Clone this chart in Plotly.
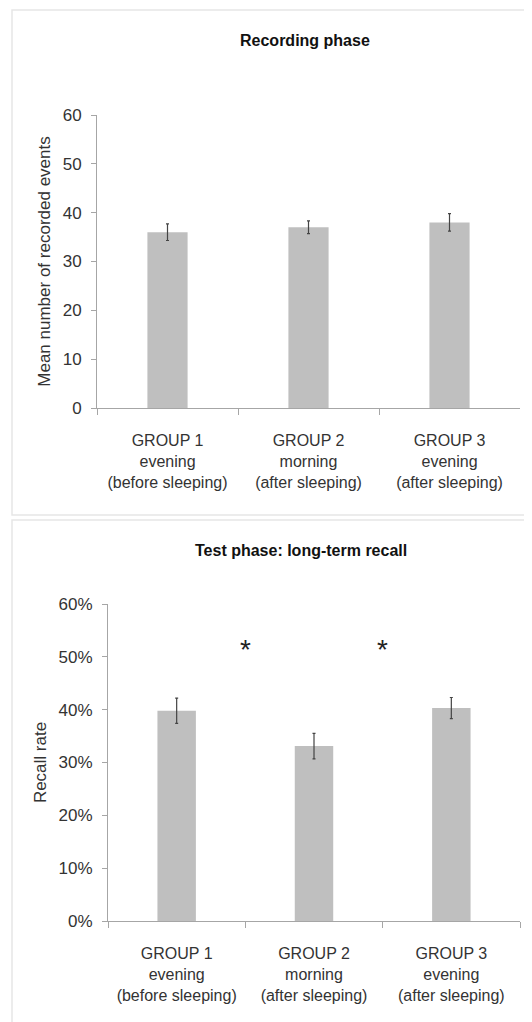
import plotly.graph_objects as go

categories = ["GROUP 1<br>evening<br>(before sleeping)",
              "GROUP 2<br>morning<br>(after sleeping)",
              "GROUP 3<br>evening<br>(after sleeping)"]
cat_keys = ["G1", "G2", "G3"]

recorded_means = [36, 37, 38]
recorded_err = [1.7, 1.3, 1.8]

recall_means = [0.398, 0.331, 0.403]
recall_err = [0.024, 0.024, 0.020]

star_positions = [0.5, 1.5]
star_level = 0.525

# page body has an 8px margin; figure sized to fit in the remaining window
OFF = 8
W, H = 532 - OFF, 1022 - OFF
tick_font = dict(family="Liberation Sans, Arial", size=16, color="#333333")
ytitle_font = dict(family="Liberation Sans, Arial", size=17, color="#333333")
title_font = dict(family="Liberation Sans, Arial", size=16, color="#111111")
bar_color = "#bfbfbf"
axis_color = "#a6a6a6"

fig = go.Figure()
fig.add_trace(go.Bar(x=cat_keys, y=recorded_means, marker=dict(color=bar_color, line=dict(width=0)),
                     width=0.285,
                     error_y=dict(type="data", array=recorded_err, color="#444444", thickness=1.2, width=1.5),
                     xaxis="x", yaxis="y", showlegend=False))
fig.add_trace(go.Bar(x=cat_keys, y=recall_means, marker=dict(color=bar_color, line=dict(width=0)),
                     width=0.28,
                     error_y=dict(type="data", array=recall_err, color="#444444", thickness=1.2, width=1.5),
                     xaxis="x2", yaxis="y2", showlegend=False))

def px_x(p):
    return (p - OFF) / W

def px_y(p):
    return 1 - (p - OFF) / H

common_x = dict(type="category", showline=True, linecolor=axis_color, linewidth=1,
                ticks="outside", tickson="boundaries", ticklen=6, tickcolor=axis_color,
                tickfont=tick_font, showgrid=False, zeroline=False, fixedrange=True,
                range=[-0.5, 2.5], ticktext=categories, tickvals=cat_keys,
                tickangle=0, automargin=False, ticklabelstandoff=18)
common_y = dict(showline=True, linecolor=axis_color, linewidth=1, ticks="outside",
                ticklen=5, tickcolor=axis_color, tickfont=dict(tick_font, size=17), showgrid=False,
                zeroline=False, fixedrange=True, automargin=False, ticklabelstandoff=6)

fig.update_layout(
    width=W, height=H, margin=dict(l=0, r=0, t=0, b=0),
    paper_bgcolor="white", plot_bgcolor="white",
    xaxis=dict(common_x, domain=[px_x(97), px_x(520)], anchor="y"),
    yaxis=dict(common_y, domain=[px_y(408), px_y(115)], anchor="x", range=[0, 60], dtick=10,
               title=dict(text="Mean number of recorded events", font=ytitle_font, standoff=7)),
    xaxis2=dict(common_x, domain=[px_x(108), px_x(520)], anchor="y2"),
    yaxis2=dict(common_y, domain=[px_y(921), px_y(604)], anchor="x2", range=[0, 0.6], dtick=0.1,
                tickformat=".0%",
                title=dict(text="Recall rate", font=ytitle_font, standoff=7)),
    bargap=0.7,
)

fig.add_annotation(text="<b>Recording phase</b>", xref="paper", yref="paper",
                   x=px_x(305), y=px_y(40), showarrow=False, font=title_font,
                   xanchor="center", yanchor="middle")
fig.add_annotation(text="<b>Test phase: long-term recall</b>", xref="paper", yref="paper",
                   x=px_x(301), y=px_y(550), showarrow=False, font=title_font,
                   xanchor="center", yanchor="middle")
for sx in star_positions:
    fig.add_annotation(text="*", x=sx, y=star_level, xref="x2", yref="y2", showarrow=False,
                       font=dict(family="Liberation Sans, Arial", size=28, color="#222222"),
                       yanchor="middle", yshift=-6)

# panel borders
fig.add_shape(type="rect", xref="paper", yref="paper", x0=px_x(12), x1=px_x(545),
              y0=px_y(515), y1=px_y(10), line=dict(color="#e6e6e6", width=1.5), layer="below")
fig.add_shape(type="rect", xref="paper", yref="paper", x0=px_x(12), x1=px_x(545),
              y0=px_y(1040), y1=px_y(520), line=dict(color="#e6e6e6", width=1.5), layer="below")

fig.write_html("out.html")
